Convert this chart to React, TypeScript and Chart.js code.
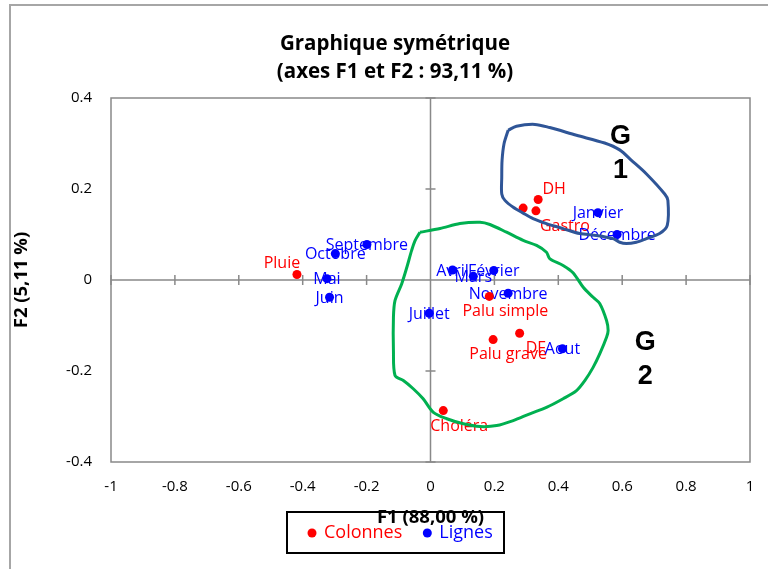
import React, { useEffect, useRef } from 'react';
import { Chart, registerables } from 'chart.js';

Chart.register(...registerables);

// ---------- data ----------
const titleLines = ['Graphique symétrique', '(axes F1 et F2 : 93,11 %)'];
const xAxisTitle = 'F1 (88,00 %)';
const yAxisTitle = 'F2 (5,11 %)';

const xTicks = [-1, -0.8, -0.6, -0.4, -0.2, 0, 0.2, 0.4, 0.6, 0.8, 1];
const yTicks = [-0.4, -0.2, 0, 0.2, 0.4];

const colonneLabels = ['Pluie', 'DH', 'Gastro', '', 'Palu simple', 'Palu grave', 'DF', 'Choléra'];
const colonneF1 = [-0.418, 0.337, 0.330, 0.290, 0.184, 0.196, 0.279, 0.040];
const colonneF2 = [0.012, 0.177, 0.152, 0.158, -0.036, -0.131, -0.117, -0.287];

const ligneLabels = ['Janvier', 'Février', 'Mars', 'Avril', 'Mai', 'Juin', 'Juillet', 'Aout', 'Septembre', 'Octobre', 'Novembre', 'Décembre'];
const ligneF1 = [0.524, 0.198, 0.134, 0.069, -0.324, -0.316, -0.004, 0.413, -0.199, -0.298, 0.243, 0.584];
const ligneF2 = [0.148, 0.021, 0.008, 0.022, 0.003, -0.038, -0.073, -0.151, 0.078, 0.058, -0.029, 0.100];

// hand-drawn group outlines (F1, F2)
const g1F1 = [0.243, 0.269, 0.327, 0.373, 0.457, 0.545, 0.592, 0.629, 0.676, 0.733, 0.743, 0.741, 0.717, 0.676, 0.644, 0.613, 0.592, 0.571, 0.519, 0.467, 0.415, 0.363, 0.321, 0.290, 0.259, 0.233, 0.223, 0.223, 0.224, 0.230, 0.243];
const g1F2 = [0.329, 0.338, 0.342, 0.335, 0.318, 0.301, 0.286, 0.263, 0.233, 0.189, 0.175, 0.120, 0.102, 0.091, 0.083, 0.080, 0.083, 0.091, 0.098, 0.102, 0.113, 0.124, 0.135, 0.147, 0.160, 0.175, 0.189, 0.226, 0.263, 0.299, 0.329];
const g2F1 = [-0.033, 0.030, 0.092, 0.155, 0.186, 0.238, 0.290, 0.332, 0.363, 0.373, 0.415, 0.446, 0.478, 0.509, 0.530, 0.551, 0.556, 0.551, 0.530, 0.509, 0.483, 0.457, 0.415, 0.363, 0.311, 0.259, 0.207, 0.155, 0.103, 0.051, 0.009, -0.023, -0.054, -0.085, -0.111, -0.116, -0.116, -0.111, -0.090, -0.074, -0.059, -0.048, -0.033];
const g2F2 = [0.105, 0.113, 0.124, 0.127, 0.122, 0.105, 0.087, 0.076, 0.061, 0.047, 0.032, 0.016, -0.016, -0.038, -0.052, -0.089, -0.111, -0.126, -0.162, -0.192, -0.221, -0.243, -0.261, -0.280, -0.294, -0.309, -0.320, -0.322, -0.316, -0.305, -0.291, -0.261, -0.239, -0.221, -0.210, -0.155, -0.082, -0.045, -0.008, 0.028, 0.065, 0.087, 0.105];

const groupNames = [['G', '1'], ['G', '2']];
const groupF1 = [0.595, 0.672];
const groupF2 = [0.277, -0.175];

// ---------- styles ----------
const RED = '#FF0000';
const BLUE = '#0000FF';
const G1_COLOR = '#2F5597';
const G2_COLOR = '#00B050';
const colonneLabelOffsets = [[-15, -12], [16, -11], [29, 15], [0, 0], [16, 14], [15, 14], [16, 14], [16, 15]];
const FONT = "'Open Sans', sans-serif";

const zip = (xs: number[], ys: number[]) => xs.map((x, i) => ({ x, y: ys[i] }));

const customPlugin = {
  id: 'customDecor',
  beforeDraw(chart: any) {
    const ctx = chart.ctx;
    ctx.save();
    ctx.fillStyle = '#fff';
    ctx.fillRect(0, 0, chart.width, chart.height);
    // outer chart frame
    ctx.strokeStyle = '#a6a6a6';
    ctx.lineWidth = 2;
    ctx.beginPath();
    ctx.moveTo(10, chart.height);
    ctx.lineTo(10, 5);
    ctx.lineTo(chart.width, 5);
    ctx.stroke();
    ctx.restore();
  },
  beforeDatasetsDraw(chart: any) {
    const ctx = chart.ctx;
    const a = chart.chartArea;
    const xs = chart.scales.x;
    const ys = chart.scales.y;
    ctx.save();
    ctx.strokeStyle = '#898989';
    ctx.lineWidth = 1.5;
    ctx.strokeRect(a.left, a.top, a.right - a.left, a.bottom - a.top);
    const x0 = xs.getPixelForValue(0);
    const y0 = ys.getPixelForValue(0);
    ctx.beginPath();
    ctx.moveTo(a.left, y0);
    ctx.lineTo(a.right, y0);
    ctx.moveTo(x0, a.top);
    ctx.lineTo(x0, a.bottom);
    xTicks.forEach((v) => {
      const px = xs.getPixelForValue(v);
      ctx.moveTo(px, y0 - 5);
      ctx.lineTo(px, y0 + 5);
    });
    yTicks.forEach((v) => {
      const py = ys.getPixelForValue(v);
      ctx.moveTo(x0 - 5, py);
      ctx.lineTo(x0 + 5, py);
    });
    ctx.stroke();

    // data labels
    ctx.font = `16px ${FONT}`;
    ctx.textAlign = 'center';
    ctx.textBaseline = 'middle';
    chart.data.datasets.forEach((ds: any, di: number) => {
      if (!ds.pointLabels) return;
      const meta = chart.getDatasetMeta(di);
      ctx.fillStyle = ds.backgroundColor;
      meta.data.forEach((el: any, i: number) => {
        const off = ds.labelOffsets ? ds.labelOffsets[i] : [0, 0];
        ctx.fillText(ds.pointLabels[i], el.x + off[0], el.y + off[1] + 1);
      });
    });
    ctx.restore();
  },
  afterDraw(chart: any) {
    const ctx = chart.ctx;
    const a = chart.chartArea;
    const xs = chart.scales.x;
    const ys = chart.scales.y;
    ctx.save();
    // group annotations
    ctx.fillStyle = '#000';
    ctx.font = `bold 27px 'Liberation Sans', Arial, sans-serif`;
    ctx.textAlign = 'center';
    ctx.textBaseline = 'middle';
    groupNames.forEach((lines, gi) => {
      const cx = xs.getPixelForValue(groupF1[gi]);
      const cy = ys.getPixelForValue(groupF2[gi]);
      lines.forEach((t, li) => {
        ctx.fillText(t, cx, cy + (li - (lines.length - 1) / 2) * 34);
      });
    });

    // title
    const cxTitle = 395;
    ctx.font = `bold 20.5px ${FONT}`;
    ctx.fillText(titleLines[0], cxTitle, 44);
    ctx.fillText(titleLines[1], cxTitle, 72);

    // legend box
    const bx = 287, by = 512, bw = 217, bh = 41;
    ctx.fillStyle = '#fff';
    ctx.fillRect(bx, by, bw, bh);
    ctx.strokeStyle = '#000';
    ctx.lineWidth = 2;
    ctx.strokeRect(bx, by, bw, bh);
    ctx.font = `18px ${FONT}`;
    ctx.textAlign = 'left';
    let lx = bx + 25;
    const ly = by + 21;
    chart.data.datasets.forEach((ds: any) => {
      if (!ds.pointLabels) return;
      ctx.fillStyle = ds.backgroundColor;
      ctx.beginPath();
      ctx.arc(lx, ly, 4.5, 0, Math.PI * 2);
      ctx.fill();
      ctx.fillText(ds.label, lx + 12, ly);
      lx += 12 + ctx.measureText(ds.label).width + 25;
    });

    // axis titles
    ctx.fillStyle = '#000';
    ctx.textAlign = 'center';
    ctx.font = `bold 18.5px ${FONT}`;
    ctx.fillText(xAxisTitle, (a.left + a.right) / 2, 518);
    ctx.translate(22, (a.top + a.bottom) / 2);
    ctx.rotate(-Math.PI / 2);
    ctx.fillText(yAxisTitle, 0, 0);
    ctx.restore();
  },
};

export default function App() {
  const ref = useRef<HTMLCanvasElement>(null);
  useEffect(() => {
    if (!ref.current) return;
    const chart = new Chart(ref.current, {
      type: 'scatter',
      data: {
        datasets: [
          {
            label: 'G1',
            data: zip(g1F1, g1F2),
            showLine: true,
            borderColor: G1_COLOR,
            backgroundColor: G1_COLOR,
            borderWidth: 3,
            pointRadius: 0,
            tension: 0.3,
            order: 0,
          },
          {
            label: 'G2',
            data: zip(g2F1, g2F2),
            showLine: true,
            borderColor: G2_COLOR,
            backgroundColor: G2_COLOR,
            borderWidth: 3,
            pointRadius: 0,
            tension: 0.3,
            order: 0,
          },
          {
            label: 'Colonnes',
            data: zip(colonneF1, colonneF2),
            backgroundColor: RED,
            borderColor: RED,
            pointRadius: 4.5,
            pointBorderWidth: 0,
            order: 1,
            pointLabels: colonneLabels,
            labelOffsets: colonneLabelOffsets,
          } as any,
          {
            label: 'Lignes',
            data: zip(ligneF1, ligneF2),
            backgroundColor: BLUE,
            borderColor: BLUE,
            pointRadius: 4.5,
            pointBorderWidth: 0,
            order: 1,
            pointLabels: ligneLabels,
          } as any,
        ],
      },
      options: {
        animation: false,
        responsive: false,
        maintainAspectRatio: false,
        layout: { padding: { top: 98, right: 18, left: 0, bottom: 0 } },
        plugins: { legend: { display: false }, title: { display: false }, tooltip: { enabled: false } },
        scales: {
          x: {
            type: 'linear',
            min: -1,
            max: 1,
            afterBuildTicks: (s: any) => { s.ticks = xTicks.map((v) => ({ value: v })); },
            afterFit: (s: any) => {
              s.height = 107;
              s.paddingLeft = 0;
              s.paddingRight = 0;
            },
            grid: { display: false, drawTicks: false },
            border: { display: false },
            ticks: {
              padding: 16,
              color: '#000',
              font: { family: FONT, size: 15 },
              maxRotation: 0,
              autoSkip: false,
              callback: (v: any) => String(v),
            },
          },
          y: {
            type: 'linear',
            min: -0.4,
            max: 0.4,
            afterBuildTicks: (s: any) => { s.ticks = yTicks.map((v) => ({ value: v })); },
            afterFit: (s: any) => {
              s.width = 111;
              s.paddingTop = 0;
              s.paddingBottom = 0;
            },
            grid: { display: false, drawTicks: false },
            border: { display: false },
            ticks: {
              padding: 19,
              color: '#000',
              font: { family: FONT, size: 15 },
              autoSkip: false,
              callback: (v: any) => String(v),
            },
          },
        },
      },
      plugins: [customPlugin],
    } as any);
    return () => chart.destroy();
  }, []);
  return (
    <div style={{ position: 'fixed', left: 0, top: 0, width: 768, height: 569, background: '#fff' }}>
      <canvas ref={ref} width={768} height={569} style={{ display: 'block', width: 768, height: 569 }} />
    </div>
  );
}
